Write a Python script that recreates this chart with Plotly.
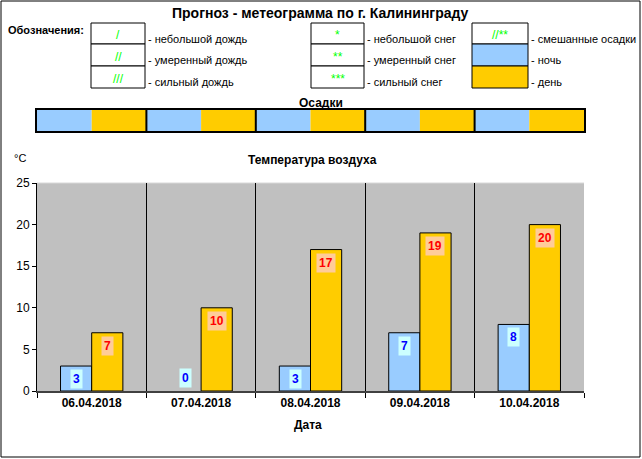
import plotly.graph_objects as go

# ---------------- data ----------------
dates = ["06.04.2018", "07.04.2018", "08.04.2018", "09.04.2018", "10.04.2018"]
night_temp = [3, 0, 3, 7, 8]
day_temp = [7, 10, 17, 19, 20]
strip_night = [1, 1, 1, 1, 1]
strip_day = [1, 1, 1, 1, 1]
y_ticks = [0, 5, 10, 15, 20, 25]

rain_symbols = ["/", "//", "///"]
rain_labels = ["- небольшой дождь", "- умеренный дождь", "- сильный дождь"]
snow_symbols = ["*", "**", "***"]
snow_labels = ["- небольшой снег", "- умеренный снег", "- сильный снег"]
other_symbols = ["//**", "", ""]
other_labels = ["- смешанные осадки", "- ночь", "- день"]

NIGHT = "#99CCFF"
DAY = "#FFCC00"
FONT = "Liberation Sans, Arial, sans-serif"

W, H = 642, 459
L, R, T, B = 37, 584, 110, 391  # pixel frame of the plot region
PW, PH = R - L, B - T


def px(x):
    return (x - L) / PW


def py(y):
    return (B - y) / PH


fig = go.Figure()

# main temperature bars (no outline for zero-height bars)
fig.add_trace(go.Bar(x=dates, y=night_temp, name="ночь",
                     marker=dict(color=NIGHT, line=dict(color="black", width=[1 if v else 0 for v in night_temp])),
                     xaxis="x", yaxis="y", hoverinfo="skip"))
fig.add_trace(go.Bar(x=dates, y=day_temp, name="день",
                     marker=dict(color=DAY, line=dict(color="black", width=[1 if v else 0 for v in day_temp])),
                     xaxis="x", yaxis="y", hoverinfo="skip"))

# precipitation strip (night / day)
fig.add_trace(go.Bar(x=dates, y=strip_night, width=0.5, offset=-0.5, marker=dict(color=NIGHT, line=dict(width=0)),
                     xaxis="x2", yaxis="y2", hoverinfo="skip"))
fig.add_trace(go.Bar(x=dates, y=strip_day, width=0.5, offset=0, marker=dict(color=DAY, line=dict(width=0)),
                     xaxis="x2", yaxis="y2", hoverinfo="skip"))

main_top = (B - 183) / PH
strip_bottom = py(131)

fig.update_layout(
    width=W, height=H,
    margin=dict(l=L, r=W - R, t=T, b=H - B, pad=0),
    paper_bgcolor="white",
    plot_bgcolor="white",
    showlegend=False,
    barmode="group",
    bargap=0.43,
    bargroupgap=0,
    font=dict(family=FONT, color="black", size=11),
    xaxis=dict(domain=[0, 1], type="category", showgrid=True, gridcolor="black", gridwidth=1,
               tickson="boundaries", ticks="outside", ticklen=5, tickcolor="black",
               showline=True, linecolor="#404040", linewidth=2,
               tickfont=dict(family=FONT, size=12, color="black", weight="bold"),
               anchor="y", zeroline=False),
    yaxis=dict(domain=[0, main_top], range=[0, 25], tickvals=y_ticks, showgrid=False,
               ticks="outside", ticklen=4, tickcolor="black", showline=True, linecolor="black",
               linewidth=1, zeroline=False, tickfont=dict(family=FONT, size=12, color="black"),
               anchor="x"),
    xaxis2=dict(domain=[0, 1], type="category", showgrid=False, showticklabels=False, ticks="",
                range=[-0.5, len(dates) - 0.5],
                showline=True, linecolor="black", linewidth=2, mirror=True, anchor="y2", zeroline=False),
    yaxis2=dict(domain=[strip_bottom, 1], range=[0, 1], showgrid=False, showticklabels=False, ticks="",
                showline=True, linecolor="black", linewidth=2, mirror=True, anchor="x2", zeroline=False),
)

shapes = []
# gray plot area background for the temperature chart
shapes.append(dict(type="rect", xref="x domain", yref="y domain", x0=0, x1=1, y0=0, y1=1,
                   fillcolor="#C0C0C0", line=dict(width=0), layer="below"))
shapes.append(dict(type="line", xref="x domain", yref="y domain", x0=0, x1=1, y0=1, y1=1,
                   line=dict(color="#D8D8D8", width=1), layer="below"))
# day separators on strip
for i in range(len(dates) - 1):
    shapes.append(dict(type="line", xref="x2", yref="y2 domain", x0=i + 0.5, x1=i + 0.5, y0=0, y1=1,
                       line=dict(color="black", width=2), layer="above"))
# outer chart border
shapes.append(dict(type="rect", xref="paper", yref="paper", x0=px(1), x1=px(640), y0=py(457), y1=py(1),
                   line=dict(color="black", width=1), fillcolor="rgba(0,0,0,0)"))

annotations = []


def text(x, y, s, size=11, bold=False, xanchor="center", color="black"):
    annotations.append(dict(xref="paper", yref="paper", x=px(x), y=py(y), text=s, showarrow=False,
                            xanchor=xanchor, yanchor="middle",
                            font=dict(family=FONT, size=size, color=color, weight="bold" if bold else "normal")))


# titles
text(320, 13, "Прогноз - метеограмма по г. Калининграду", size=14, bold=True)
text(6, 30, "Обозначения:", size=11, bold=True, xanchor="left")
text(321, 103, "Осадки", size=12, bold=True)
text(312, 160, "Температура воздуха", size=12, bold=True)
text(12, 158, "°C", size=11, xanchor="left")
text(308, 425, "Дата", size=12, bold=True)

# legend key
rows = [(23, 44), (44, 66), (66, 88)]
cols = [(91, 145, rain_symbols, rain_labels, [None, None, None]),
        (311, 364, snow_symbols, snow_labels, [None, None, None]),
        (472, 528, other_symbols, other_labels, [None, NIGHT, DAY])]
for x0, x1, syms, labs, fills in cols:
    for (y0, y1), sym, lab, fill in zip(rows, syms, labs, fills):
        shapes.append(dict(type="rect", xref="paper", yref="paper", x0=px(x0), x1=px(x1), y0=py(y1), y1=py(y0),
                           line=dict(color="black", width=1), fillcolor=fill if fill else "white"))
        yc = (y0 + y1) / 2
        if sym:
            text((x0 + x1) / 2, yc + 2, sym, size=12, color="#00FF00")
        text(x1 + 1, yc + 5, lab, size=11, xanchor="left")

# data labels
for d, n, dd in zip(dates, night_temp, day_temp):
    for v, shift, fc, bg in ((n, -15.5, "#0000FF", "#CCFFFF"), (dd, 15.5, "#FF0000", "#FFCC99")):
        if v < 3:
            yy, ya, ys = 0, "bottom", 3
        else:
            yy, ya, ys = v, "top", -3
        annotations.append(dict(xref="x", yref="y", x=d, y=yy, xshift=shift, yshift=ys, text=str(v),
                                showarrow=False, xanchor="center", yanchor=ya, bgcolor=bg, borderpad=2,
                                font=dict(family=FONT, size=12, color=fc, weight="bold")))

fig.update_layout(shapes=shapes, annotations=annotations)
fig.write_html("out.html", config={"displayModeBar": False},
               post_script="document.body.style.margin='0';document.body.style.overflow='hidden';")
